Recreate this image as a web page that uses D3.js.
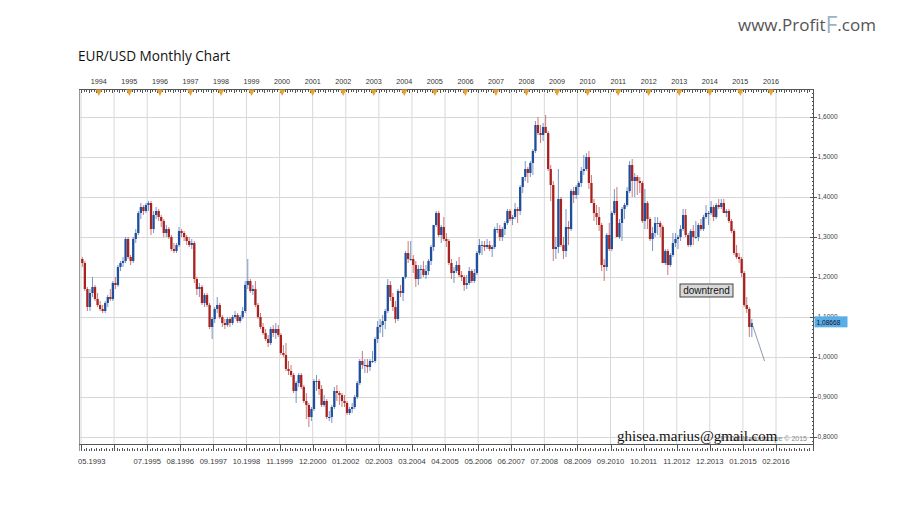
<!DOCTYPE html>
<html lang="en">
<head>
<meta charset="UTF-8"/>
<title>EUR/USD Monthly Chart</title>
<script src="https://d3js.org/d3.v7.min.js"></script>
<style>
  body { margin: 0; background: #fff; }
  svg { display: block; }
  text { font-family: 'Liberation Sans', Arial, sans-serif; fill: #333; }
  .title { font-family: 'Open Sans', sans-serif; font-size: 13.6px; fill: #111; }
  .grid line { stroke: #d8d8d8; stroke-width: 1; }
  .ruler line, .ruler path { stroke: #555; stroke-width: 1; shape-rendering: crispEdges; }
  .yearlbl { font-size: 7.2px; fill: #333; }
  .datelbl { font-size: 7.6px; fill: #3a3a3a; }
  .pricelbl { font-size: 6.6px; fill: #444; }
  .up { fill: #1f4f9c; stroke: #1f4f9c; }
  .down { fill: #a8221f; stroke: #a8221f; }
  .email { font-family: 'Liberation Serif', 'Times New Roman', serif; font-size: 15px; fill: #111; }
</style>
</head>
<body>
<svg width="900" height="525"></svg>
<script>
// monthly candles [open, high, low, close], starting 05.1993
const y1993 = [[1.245,1.250,1.225,1.235],[1.235,1.240,1.165,1.170],[1.170,1.175,1.115,1.125],[1.125,1.170,1.115,1.160],
  [1.160,1.200,1.150,1.175],[1.175,1.180,1.140,1.145],[1.145,1.160,1.125,1.130],[1.130,1.140,1.115,1.120]];
const y1994 = [[1.120,1.130,1.110,1.115],[1.115,1.140,1.110,1.135],[1.135,1.155,1.125,1.150],[1.150,1.170,1.140,1.145],
  [1.145,1.190,1.140,1.185],[1.185,1.200,1.170,1.180],[1.180,1.230,1.175,1.225],[1.225,1.240,1.215,1.235],
  [1.235,1.250,1.225,1.240],[1.240,1.300,1.235,1.295],[1.295,1.300,1.245,1.250],[1.250,1.255,1.230,1.240]];
const y1995 = [[1.240,1.300,1.235,1.295],[1.295,1.320,1.285,1.310],[1.310,1.365,1.305,1.360],[1.360,1.385,1.345,1.375],
  [1.375,1.380,1.355,1.365],[1.365,1.385,1.360,1.380],[1.380,1.390,1.365,1.385],[1.385,1.390,1.305,1.320],
  [1.320,1.365,1.310,1.355],[1.355,1.375,1.345,1.365],[1.365,1.370,1.340,1.350],[1.350,1.355,1.325,1.340]];
const y1996 = [[1.340,1.345,1.300,1.310],[1.310,1.330,1.300,1.320],[1.320,1.325,1.295,1.300],[1.300,1.305,1.265,1.270],
  [1.270,1.285,1.260,1.265],[1.265,1.285,1.260,1.280],[1.280,1.325,1.275,1.315],[1.315,1.320,1.300,1.310],
  [1.310,1.315,1.290,1.300],[1.300,1.305,1.280,1.290],[1.290,1.300,1.275,1.280],[1.280,1.295,1.270,1.285]];
const y1997 = [[1.285,1.290,1.185,1.195],[1.195,1.200,1.155,1.170],[1.170,1.185,1.150,1.175],[1.175,1.180,1.130,1.135],
  [1.135,1.160,1.125,1.155],[1.155,1.160,1.125,1.130],[1.130,1.135,1.070,1.075],[1.075,1.100,1.045,1.095],
  [1.095,1.125,1.085,1.120],[1.120,1.150,1.110,1.130],[1.130,1.135,1.095,1.100],[1.100,1.105,1.075,1.085]];
const y1998 = [[1.085,1.095,1.070,1.080],[1.080,1.100,1.075,1.095],[1.095,1.100,1.075,1.085],[1.085,1.105,1.080,1.100],
  [1.100,1.115,1.095,1.105],[1.105,1.110,1.085,1.090],[1.090,1.105,1.085,1.100],[1.100,1.125,1.095,1.115],
  [1.115,1.190,1.110,1.180],[1.180,1.245,1.170,1.190],[1.190,1.195,1.160,1.165],[1.165,1.180,1.155,1.170]];
const y1999 = [[1.170,1.190,1.125,1.130],[1.130,1.135,1.095,1.100],[1.100,1.110,1.070,1.075],[1.075,1.085,1.055,1.060],
  [1.060,1.070,1.040,1.045],[1.045,1.055,1.025,1.035],[1.035,1.075,1.030,1.070],[1.070,1.080,1.050,1.060],
  [1.060,1.085,1.045,1.070],[1.070,1.080,1.050,1.055],[1.055,1.060,1.005,1.010],[1.010,1.030,1.000,1.005]];
const y2000 = [[1.005,1.035,0.965,0.970],[0.970,0.990,0.955,0.965],[0.965,0.980,0.950,0.955],[0.955,0.960,0.910,0.915],
  [0.915,0.940,0.885,0.935],[0.935,0.960,0.925,0.955],[0.955,0.960,0.920,0.925],[0.925,0.930,0.885,0.890],
  [0.890,0.910,0.845,0.880],[0.880,0.885,0.825,0.850],[0.850,0.875,0.840,0.870],[0.870,0.945,0.865,0.940]];
const y2001 = [[0.940,0.955,0.915,0.940],[0.940,0.945,0.905,0.920],[0.920,0.930,0.875,0.880],[0.880,0.905,0.875,0.890],
  [0.890,0.895,0.845,0.850],[0.850,0.865,0.840,0.850],[0.850,0.880,0.835,0.875],[0.875,0.925,0.870,0.915],
  [0.915,0.930,0.890,0.910],[0.910,0.915,0.880,0.905],[0.905,0.910,0.875,0.890],[0.890,0.905,0.875,0.885]];
const y2002 = [[0.885,0.890,0.855,0.860],[0.860,0.875,0.855,0.870],[0.870,0.885,0.860,0.875],[0.875,0.905,0.870,0.900],
  [0.900,0.940,0.895,0.935],[0.935,0.995,0.930,0.990],[0.990,1.015,0.970,0.980],[0.980,0.995,0.960,0.980],
  [0.980,0.995,0.960,0.975],[0.975,0.995,0.965,0.990],[0.990,1.015,0.985,0.990],[0.990,1.050,0.985,1.045]];
const y2003 = [[1.045,1.090,1.035,1.075],[1.075,1.095,1.060,1.080],[1.080,1.105,1.050,1.090],[1.090,1.120,1.070,1.115],
  [1.115,1.195,1.110,1.180],[1.180,1.190,1.140,1.150],[1.150,1.160,1.115,1.125],[1.125,1.140,1.085,1.095],
  [1.095,1.170,1.090,1.165],[1.165,1.180,1.150,1.160],[1.160,1.200,1.140,1.200],[1.200,1.265,1.195,1.260]];
const y2004 = [[1.260,1.290,1.235,1.245],[1.245,1.290,1.240,1.245],[1.245,1.255,1.210,1.230],[1.230,1.240,1.175,1.195],
  [1.195,1.230,1.180,1.220],[1.220,1.230,1.195,1.220],[1.220,1.240,1.200,1.205],[1.205,1.230,1.195,1.215],
  [1.215,1.245,1.205,1.240],[1.240,1.280,1.230,1.275],[1.275,1.330,1.265,1.330],[1.330,1.365,1.325,1.360]];
const y2005 = [[1.360,1.365,1.300,1.305],[1.305,1.330,1.285,1.325],[1.325,1.350,1.290,1.295],[1.295,1.310,1.275,1.290],
  [1.290,1.295,1.230,1.235],[1.235,1.245,1.195,1.210],[1.210,1.225,1.185,1.215],[1.215,1.240,1.210,1.230],
  [1.230,1.250,1.200,1.205],[1.205,1.215,1.190,1.200],[1.200,1.205,1.165,1.180],[1.180,1.205,1.170,1.185]];
const y2006 = [[1.185,1.225,1.180,1.215],[1.215,1.220,1.185,1.190],[1.190,1.220,1.185,1.210],[1.210,1.265,1.205,1.260],
  [1.260,1.295,1.255,1.280],[1.280,1.290,1.255,1.280],[1.280,1.290,1.265,1.275],[1.275,1.295,1.270,1.280],
  [1.280,1.290,1.265,1.270],[1.270,1.280,1.250,1.275],[1.275,1.325,1.270,1.320],[1.320,1.335,1.310,1.320]];
const y2007 = [[1.320,1.330,1.290,1.300],[1.300,1.325,1.290,1.320],[1.320,1.340,1.305,1.335],[1.335,1.370,1.330,1.365],
  [1.365,1.370,1.340,1.345],[1.345,1.355,1.330,1.350],[1.350,1.385,1.345,1.370],[1.370,1.375,1.335,1.365],
  [1.365,1.430,1.355,1.425],[1.425,1.450,1.410,1.450],[1.450,1.490,1.440,1.470],[1.470,1.475,1.435,1.460]];
const y2008 = [[1.460,1.490,1.450,1.485],[1.485,1.520,1.455,1.515],[1.515,1.590,1.510,1.580],[1.580,1.600,1.555,1.560],
  [1.560,1.580,1.535,1.555],[1.555,1.585,1.540,1.575],[1.575,1.605,1.560,1.560],[1.560,1.565,1.465,1.470],
  [1.470,1.480,1.390,1.430],[1.430,1.440,1.240,1.270],[1.270,1.300,1.245,1.275],[1.275,1.470,1.260,1.395]];
const y2009 = [[1.395,1.400,1.275,1.280],[1.280,1.300,1.245,1.265],[1.265,1.370,1.250,1.325],[1.325,1.340,1.280,1.320],
  [1.320,1.420,1.315,1.415],[1.415,1.425,1.385,1.405],[1.405,1.430,1.395,1.425],[1.425,1.440,1.405,1.435],
  [1.435,1.475,1.425,1.465],[1.465,1.505,1.455,1.470],[1.470,1.510,1.465,1.500],[1.500,1.515,1.420,1.435]];
const y2010 = [[1.435,1.455,1.385,1.385],[1.385,1.395,1.340,1.360],[1.360,1.380,1.330,1.350],[1.350,1.375,1.315,1.330],
  [1.330,1.335,1.215,1.230],[1.230,1.245,1.190,1.225],[1.225,1.310,1.215,1.305],[1.305,1.335,1.265,1.270],
  [1.270,1.365,1.265,1.360],[1.360,1.420,1.355,1.390],[1.390,1.425,1.300,1.300],[1.300,1.345,1.295,1.335]];
const y2011 = [[1.335,1.375,1.290,1.370],[1.370,1.385,1.345,1.380],[1.380,1.425,1.375,1.415],[1.415,1.490,1.410,1.480],
  [1.480,1.495,1.400,1.440],[1.440,1.460,1.400,1.450],[1.450,1.455,1.405,1.440],[1.440,1.450,1.410,1.435],
  [1.435,1.440,1.335,1.340],[1.340,1.420,1.320,1.385],[1.385,1.390,1.320,1.345],[1.345,1.350,1.290,1.295]];
const y2012 = [[1.295,1.325,1.265,1.310],[1.310,1.350,1.300,1.335],[1.335,1.350,1.305,1.335],[1.335,1.340,1.300,1.325],
  [1.325,1.330,1.235,1.235],[1.235,1.270,1.230,1.265],[1.265,1.270,1.205,1.230],[1.230,1.260,1.225,1.255],
  [1.255,1.310,1.250,1.285],[1.285,1.310,1.275,1.295],[1.295,1.305,1.270,1.300],[1.300,1.330,1.290,1.320]];
const y2013 = [[1.320,1.370,1.315,1.355],[1.355,1.370,1.300,1.305],[1.305,1.310,1.275,1.280],[1.280,1.320,1.275,1.315],
  [1.315,1.330,1.280,1.300],[1.300,1.340,1.295,1.300],[1.300,1.335,1.290,1.330],[1.330,1.345,1.315,1.320],
  [1.320,1.355,1.315,1.350],[1.350,1.380,1.345,1.360],[1.360,1.365,1.330,1.360],[1.360,1.390,1.355,1.375]];
const y2014 = [[1.375,1.380,1.340,1.350],[1.350,1.385,1.345,1.380],[1.380,1.395,1.370,1.375],[1.375,1.395,1.370,1.385],
  [1.385,1.395,1.360,1.360],[1.360,1.370,1.350,1.365],[1.365,1.370,1.335,1.340],[1.340,1.345,1.310,1.315],
  [1.315,1.320,1.255,1.260],[1.260,1.280,1.245,1.250],[1.250,1.260,1.235,1.245],[1.245,1.250,1.200,1.210]];
const y2015 = [[1.210,1.215,1.125,1.130],[1.130,1.150,1.110,1.120],[1.120,1.125,1.050,1.075],[1.075,1.095,1.050,1.085]];

const firstMonth = '05.1993';
const yearLabels = ['1994','1995','1996','1997','1998','1999','2000','2001','2002','2003','2004','2005',
  '2006','2007','2008','2009','2010','2011','2012','2013','2014','2015','2016'];
const gridMonths = ['05.1993','06.1994','07.1995','08.1996','09.1997','10.1998','11.1999','12.2000','01.2002',
  '02.2003','03.2004','04.2005','05.2006','06.2007','07.2008','08.2009','09.2010','10.2011','11.2012',
  '12.2013','01.2015','02.2016'];
const hiddenLabels = ['06.1994'];
const priceTicks = [0.8, 0.9, 1.0, 1.1, 1.2, 1.3, 1.4, 1.5, 1.6];
const lastPrice = 1.08668;
const projection = [['04.2015', 1.085], ['09.2015', 0.99]];

const candles = [].concat(y1993, y1994, y1995, y1996, y1997, y1998, y1999, y2000, y2001, y2002, y2003,
  y2004, y2005, y2006, y2007, y2008, y2009, y2010, y2011, y2012, y2013, y2014, y2015)
  .map((d, i) => ({ i, open: d[0], high: d[1], low: d[2], close: d[3] }));

// "MM.YYYY" -> months since firstMonth
const monthIdx = (s) => {
  const [m, yr] = s.split('.').map(Number);
  const [m0, y0] = firstMonth.split('.').map(Number);
  return (yr - y0) * 12 + (m - m0);
};

const svg = d3.select('svg');
const plotL = 79, plotR = 813, plotT = 92, plotB = 444;

const x = d3.scaleLinear().domain([0, monthIdx('02.2016')]).range([81, 776]);
const y = d3.scaleLinear().domain([0.78, 1.6625]).range([plotB + 1, plotT]);

// title and watermarks
svg.append('text').attr('class', 'title').attr('x', 78).attr('y', 61).text('EUR/USD Monthly Chart');

const wm = svg.append('text').attr('x', 738).attr('y', 31)
  .style('font-family', "'Open Sans', sans-serif").style('font-size', '17px');
wm.append('tspan').style('fill', '#555').text('www.Profit');
wm.append('tspan').style('fill', '#9db3bf').style('font-size', '23px').attr('dy', 2).text('F');
wm.append('tspan').style('fill', '#555').attr('dy', -2).text('.com');

// grid
const grid = svg.append('g').attr('class', 'grid');
grid.selectAll('.v').data(gridMonths).join('line')
  .attr('x1', (d) => x(monthIdx(d))).attr('x2', (d) => x(monthIdx(d)))
  .attr('y1', plotT).attr('y2', plotB);
grid.selectAll('.h').data(priceTicks).join('line')
  .attr('x1', plotL).attr('x2', plotR)
  .attr('y1', (d) => Math.round(y(d)) + 0.5).attr('y2', (d) => Math.round(y(d)) + 0.5);

// frame
const ruler = svg.append('g').attr('class', 'ruler');
ruler.append('line').attr('x1', plotL + 0.5).attr('x2', plotL + 0.5).attr('y1', 89).attr('y2', 451).style('stroke', '#999');

// top ruler
const topY = 89.5;
ruler.append('line').attr('x1', plotL).attr('x2', plotR).attr('y1', topY).attr('y2', topY);
const allMonths = d3.range(-1, monthIdx('02.2016') + 14);
ruler.selectAll('.tt').data(allMonths.filter((m) => x(m) > plotL && x(m) < plotR)).join('line')
  .attr('x1', (m) => Math.round(x(m)) + 0.5).attr('x2', (m) => Math.round(x(m)) + 0.5)
  .attr('y1', topY).attr('y2', (m) => topY + (m % 3 === 0 ? 3 : 2));
const yearX = (yr) => x(monthIdx('01.' + yr) - 1);
svg.selectAll('.tri').data(yearLabels).join('path')
  .attr('d', (d) => `M${yearX(d) - 3.2},${topY}L${yearX(d) + 3.2},${topY}L${yearX(d)},${topY + 6.5}Z`)
  .style('fill', '#e8a23a');
svg.selectAll('.yl').data(yearLabels).join('text').attr('class', 'yearlbl')
  .attr('x', (d) => yearX(d)).attr('y', 84).attr('text-anchor', 'middle').text((d) => d);

// bottom ruler
const botY = 444.5;
ruler.append('line').attr('x1', plotL).attr('x2', plotR).attr('y1', botY).attr('y2', botY);
ruler.selectAll('.bt').data(allMonths.filter((m) => x(m) > plotL && x(m) < plotR)).join('line')
  .attr('x1', (m) => Math.round(x(m)) + 0.5).attr('x2', (m) => Math.round(x(m)) + 0.5)
  .attr('y1', (m) => 451 - (m % 2 === 0 ? 3 : 2)).attr('y2', 451);
ruler.selectAll('.bm').data(gridMonths).join('line')
  .attr('x1', (d) => Math.round(x(monthIdx(d))) + 0.5).attr('x2', (d) => Math.round(x(monthIdx(d))) + 0.5)
  .attr('y1', botY).attr('y2', 451);
svg.selectAll('.dl').data(gridMonths.filter((d) => !hiddenLabels.includes(d))).join('text')
  .attr('class', 'datelbl')
  .attr('x', (d, i) => i === 0 ? 78 : x(monthIdx(d)))
  .attr('text-anchor', (d, i) => i === 0 ? 'start' : 'middle')
  .attr('y', 464).text((d) => d);

// right price axis
const axisX = plotR + 0.5;
ruler.append('line').attr('x1', axisX).attr('x2', axisX).attr('y1', 89).attr('y2', 451);
const minor = d3.range(78, 167).map((v) => v / 100);
ruler.selectAll('.pt').data(minor.filter((v) => y(v) > plotT && y(v) < plotB)).join('line')
  .attr('x1', (v) => axisX - (Math.round(v * 100) % 10 === 0 ? 4 : Math.round(v * 100) % 5 === 0 ? 3 : 2))
  .attr('x2', axisX)
  .attr('y1', (v) => Math.round(y(v)) + 0.5).attr('y2', (v) => Math.round(y(v)) + 0.5);
ruler.selectAll('.pm').data(priceTicks).join('line')
  .attr('x1', axisX).attr('x2', axisX + 3)
  .attr('y1', (v) => Math.round(y(v)) + 0.5).attr('y2', (v) => Math.round(y(v)) + 0.5);
svg.selectAll('.pl').data(priceTicks).join('text').attr('class', 'pricelbl')
  .attr('x', axisX + 4).attr('y', (v) => y(v) + 2.3)
  .text((v) => d3.format('.4f')(v).replace('.', ','));

// last price box
const lp = svg.append('g').attr('transform', `translate(${axisX + 1},${y(lastPrice)})`);
lp.append('rect').attr('x', 0).attr('y', -6).attr('width', 33).attr('height', 11).style('fill', '#5aaee6');
lp.append('text').attr('class', 'pricelbl').attr('x', 2).attr('y', 2.3).style('fill', '#113').text(d3.format('.5f')(lastPrice).replace('.', ','));

// candles
const cw = 2.3;
const cg = svg.append('g');
cg.selectAll('line').data(candles).join('line')
  .attr('class', (d) => d.close >= d.open ? 'up' : 'down')
  .attr('x1', (d) => x(d.i) + 1.3).attr('x2', (d) => x(d.i) + 1.3)
  .attr('y1', (d) => y(d.high)).attr('y2', (d) => y(d.low))
  .style('stroke-width', 0.8).style('stroke-opacity', 0.75);
cg.selectAll('rect').data(candles).join('rect')
  .attr('class', (d) => d.close >= d.open ? 'up' : 'down')
  .attr('x', (d) => x(d.i) + 1.3 - cw / 2).attr('width', cw)
  .attr('y', (d) => y(Math.max(d.open, d.close)))
  .attr('height', (d) => Math.max(1, Math.abs(y(d.open) - y(d.close))))
  .style('stroke', 'none');

// projection line
svg.append('path')
  .attr('d', d3.line()(projection.map((p) => [x(monthIdx(p[0])) + 1.3, y(p[1])])))
  .style('stroke', '#6f7f96').style('stroke-width', 0.8).style('fill', 'none');

// downtrend label
const dt = svg.append('g').attr('transform', 'translate(680,284)');
dt.append('rect').attr('width', 53).attr('height', 13).style('fill', '#d9d9d9').style('stroke', '#444').style('stroke-width', 1);
dt.append('text').attr('x', 26.5).attr('y', 10).attr('text-anchor', 'middle').style('font-size', '10px').style('fill', '#111').text('downtrend');

// platform stamp and e-mail
svg.append('text').attr('x', 807).attr('y', 441).attr('text-anchor', 'end')
  .style('font-size', '7px').style('fill', '#8a8a8a').text('FXCM Marketscope © 2015');
svg.append('text').attr('class', 'email').attr('x', 617).attr('y', 441).text('ghisea.marius@gmail.com');
</script>
</body>
</html>
